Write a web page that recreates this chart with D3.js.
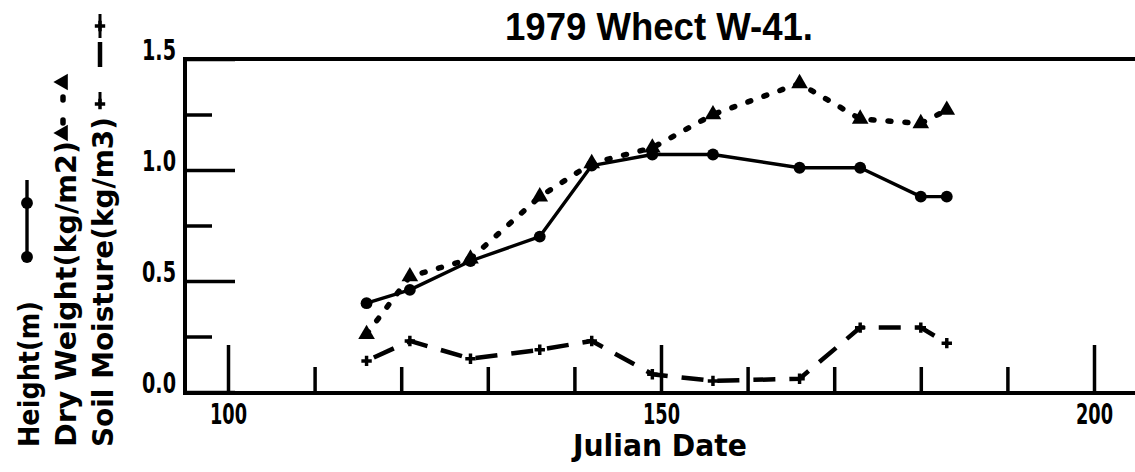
<!DOCTYPE html>
<html>
<head>
<meta charset="utf-8">
<script src="https://cdn.jsdelivr.net/npm/d3@7"></script>
<style>
  html, body { margin: 0; padding: 0; background: #fff; }
  svg { display: block; }
</style>
</head>
<body>
<svg id="chart" width="1135" height="472"></svg>
<script>
// ---- data ----
const julianDays   = [116, 121, 128, 136, 142, 149, 156, 166, 173, 180, 183];
const heightM      = [0.40, 0.46, 0.59, 0.70, 1.02, 1.07, 1.07, 1.01, 1.01, 0.88, 0.88];
const dryWeight    = [0.26, 0.52, 0.60, 0.88, 1.03, 1.10, 1.25, 1.39, 1.23, 1.21, 1.27];
const soilMoisture = [0.14, 0.23, 0.15, 0.19, 0.23, 0.08, 0.05, 0.06, 0.29, 0.29, 0.22];
const xMajorTicks  = [100, 150, 200];
const xMinorTicks  = [110, 120, 130, 140, 160, 170, 180, 190];
const yMajorTicks  = [0, 0.5, 1.0, 1.5];
const yMinorTicks  = [0.25, 0.75, 1.25];
const yTickLabels  = ["0.0", "0.5", "1.0", "1.5"];
const titleText    = "1979 Whect W-41.";
const xAxisTitle   = "Julian Date";
const legendLabels = ["Height(m)", "Dry Weight(kg/m2)", "Soil Moisture(kg/m3)"];

// ---- layout ----
const svg = d3.select("#chart");
const x = d3.scaleLinear().domain([100, 200]).range([228, 1094]);
const y = d3.scaleLinear().domain([0, 1.5]).range([392, 59]);
const axisFont = "'DejaVu Sans Condensed', 'DejaVu Sans', sans-serif";
const ink = "#000";

// frame lines (left, top, bottom)
const frame = svg.append("g").attr("stroke", ink).attr("stroke-width", 4).attr("fill", "none");
frame.append("line").attr("x1", 185).attr("x2", 185).attr("y1", 57).attr("y2", 395);
frame.append("line").attr("x1", 183).attr("x2", 1135).attr("y1", 59).attr("y2", 59);
frame.append("line").attr("x1", 183).attr("x2", 1135).attr("y1", 393).attr("y2", 393);

// y axis (ticks pointing inward)
const yMinor = svg.append("g").attr("transform", "translate(185,0)")
  .call(d3.axisLeft(y).tickValues(yMinorTicks).tickSizeInner(-27).tickSizeOuter(0).tickFormat(""));
const yMajor = svg.append("g").attr("transform", "translate(185,0)")
  .call(d3.axisLeft(y).tickValues(yMajorTicks).tickSizeInner(-50).tickSizeOuter(0).tickPadding(9)
        .tickFormat((d, i) => yTickLabels[i]));
[yMinor, yMajor].forEach(g => {
  g.select(".domain").remove();
  g.selectAll(".tick line").attr("stroke", ink).attr("stroke-width", 3.5);
});
yMajor.selectAll(".tick text")
  .attr("fill", ink).attr("dy", "0.0em").attr("y", 0)
  .attr("font-family", axisFont).attr("font-weight", "bold").attr("font-size", 29)
  .attr("textLength", 34).attr("lengthAdjust", "spacingAndGlyphs");

// x axis (ticks pointing upward)
const xMinor = svg.append("g").attr("transform", "translate(0,393)")
  .call(d3.axisBottom(x).tickValues(xMinorTicks).tickSizeInner(-26).tickSizeOuter(0).tickFormat(""));
const xMajor = svg.append("g").attr("transform", "translate(0,393)")
  .call(d3.axisBottom(x).tickValues(xMajorTicks).tickSizeInner(-48).tickSizeOuter(0).tickPadding(0)
        .tickFormat(d3.format("d")));
[xMinor, xMajor].forEach(g => {
  g.select(".domain").remove();
  g.selectAll(".tick line").attr("stroke", ink).attr("stroke-width", 3.5);
});
xMajor.selectAll(".tick text")
  .attr("fill", ink).attr("y", 31).attr("dy", "0")
  .attr("font-family", axisFont).attr("font-weight", "bold").attr("font-size", 29)
  .attr("textLength", 37).attr("lengthAdjust", "spacingAndGlyphs");

// axis title
svg.append("text").attr("x", 660).attr("y", 456).attr("text-anchor", "middle")
  .attr("font-family", axisFont).attr("font-weight", "bold").attr("font-size", 30)
  .attr("textLength", 174).attr("lengthAdjust", "spacingAndGlyphs")
  .text(xAxisTitle);

// chart title
svg.append("text").attr("x", 505).attr("y", 40)
  .attr("font-family", "'Liberation Sans', Arial, sans-serif").attr("font-weight", "bold").attr("font-size", 39)
  .attr("textLength", 308).attr("lengthAdjust", "spacingAndGlyphs")
  .text(titleText);

// ---- series ----
const pts = vals => julianDays.map((d, i) => [d, vals[i]]);
const line = d3.line().x(d => x(d[0])).y(d => y(d[1]));

// height: solid
svg.append("path").datum(pts(heightM)).attr("d", line)
  .attr("fill", "none").attr("stroke", ink).attr("stroke-width", 3.4).attr("stroke-linejoin", "round");
// dry weight: dotted
svg.append("path").datum(pts(dryWeight)).attr("d", line)
  .attr("fill", "none").attr("stroke", ink).attr("stroke-width", 5.5)
  .attr("stroke-linecap", "round").attr("stroke-dasharray", "3,14");
// soil moisture: dashed
svg.append("path").datum(pts(soilMoisture)).attr("d", line)
  .attr("fill", "none").attr("stroke", ink).attr("stroke-width", 4.5)
  .attr("stroke-dasharray", "22,14").attr("stroke-dashoffset", -8);

const circ = d3.symbol().type(d3.symbolCircle).size(110);
const tri = d3.symbol().type(d3.symbolTriangle).size(120);
const cross = d3.symbol().type(d3.symbolCross).size(60);

svg.append("g").selectAll("path").data(pts(heightM)).join("path")
  .attr("transform", d => `translate(${x(d[0])},${y(d[1])})`).attr("d", circ).attr("fill", ink);
svg.append("g").selectAll("path").data(pts(dryWeight)).join("path")
  .attr("transform", d => `translate(${x(d[0])},${y(d[1])})`).attr("d", tri).attr("fill", ink);
svg.append("g").selectAll("path").data(pts(soilMoisture)).join("path")
  .attr("transform", d => `translate(${x(d[0])},${y(d[1])})`).attr("d", cross).attr("fill", ink);

// ---- legend (rotated, left side) ----
const legendFont = "'DejaVu Sans', sans-serif";
const legendCols = [
  { bx: 39, len: 146 },
  { bx: 76, len: 306 },
  { bx: 113, len: 330 }
];
legendLabels.forEach((t, i) => {
  svg.append("text")
    .attr("transform", `translate(${legendCols[i].bx},447) rotate(-90)`)
    .attr("font-family", legendFont).attr("font-weight", "bold").attr("font-size", 28)
    .attr("textLength", legendCols[i].len).attr("lengthAdjust", "spacingAndGlyphs")
    .attr("fill", ink).text(t);
});
// legend symbol: height
svg.append("line").attr("x1", 27).attr("x2", 27).attr("y1", 262).attr("y2", 180)
  .attr("stroke", ink).attr("stroke-width", 3.4);
[257, 203].forEach(yy => svg.append("path").attr("transform", `translate(27,${yy})`).attr("d", circ).attr("fill", ink));
// legend symbol: dry weight
svg.append("line").attr("x1", 63).attr("x2", 63).attr("y1", 133).attr("y2", 82)
  .attr("stroke", ink).attr("stroke-width", 5.5).attr("stroke-linecap", "round").attr("stroke-dasharray", "3,20")
  .attr("stroke-dashoffset", -10);
[133, 82].forEach(yy => svg.append("path").attr("transform", `translate(63,${yy}) rotate(-90)`).attr("d", tri).attr("fill", ink));
// legend symbol: soil moisture
svg.append("line").attr("x1", 100).attr("x2", 100).attr("y1", 67).attr("y2", 42)
  .attr("stroke", ink).attr("stroke-width", 4.5);
[104, 26].forEach(yy => svg.append("path").attr("transform", `translate(100,${yy})`).attr("d", cross).attr("fill", ink));
[[104, 92], [26, 38], [26, 14]].forEach(([a, b]) => svg.append("line")
  .attr("x1", 100).attr("x2", 100).attr("y1", a).attr("y2", b).attr("stroke", ink).attr("stroke-width", 3));
</script>
</body>
</html>
